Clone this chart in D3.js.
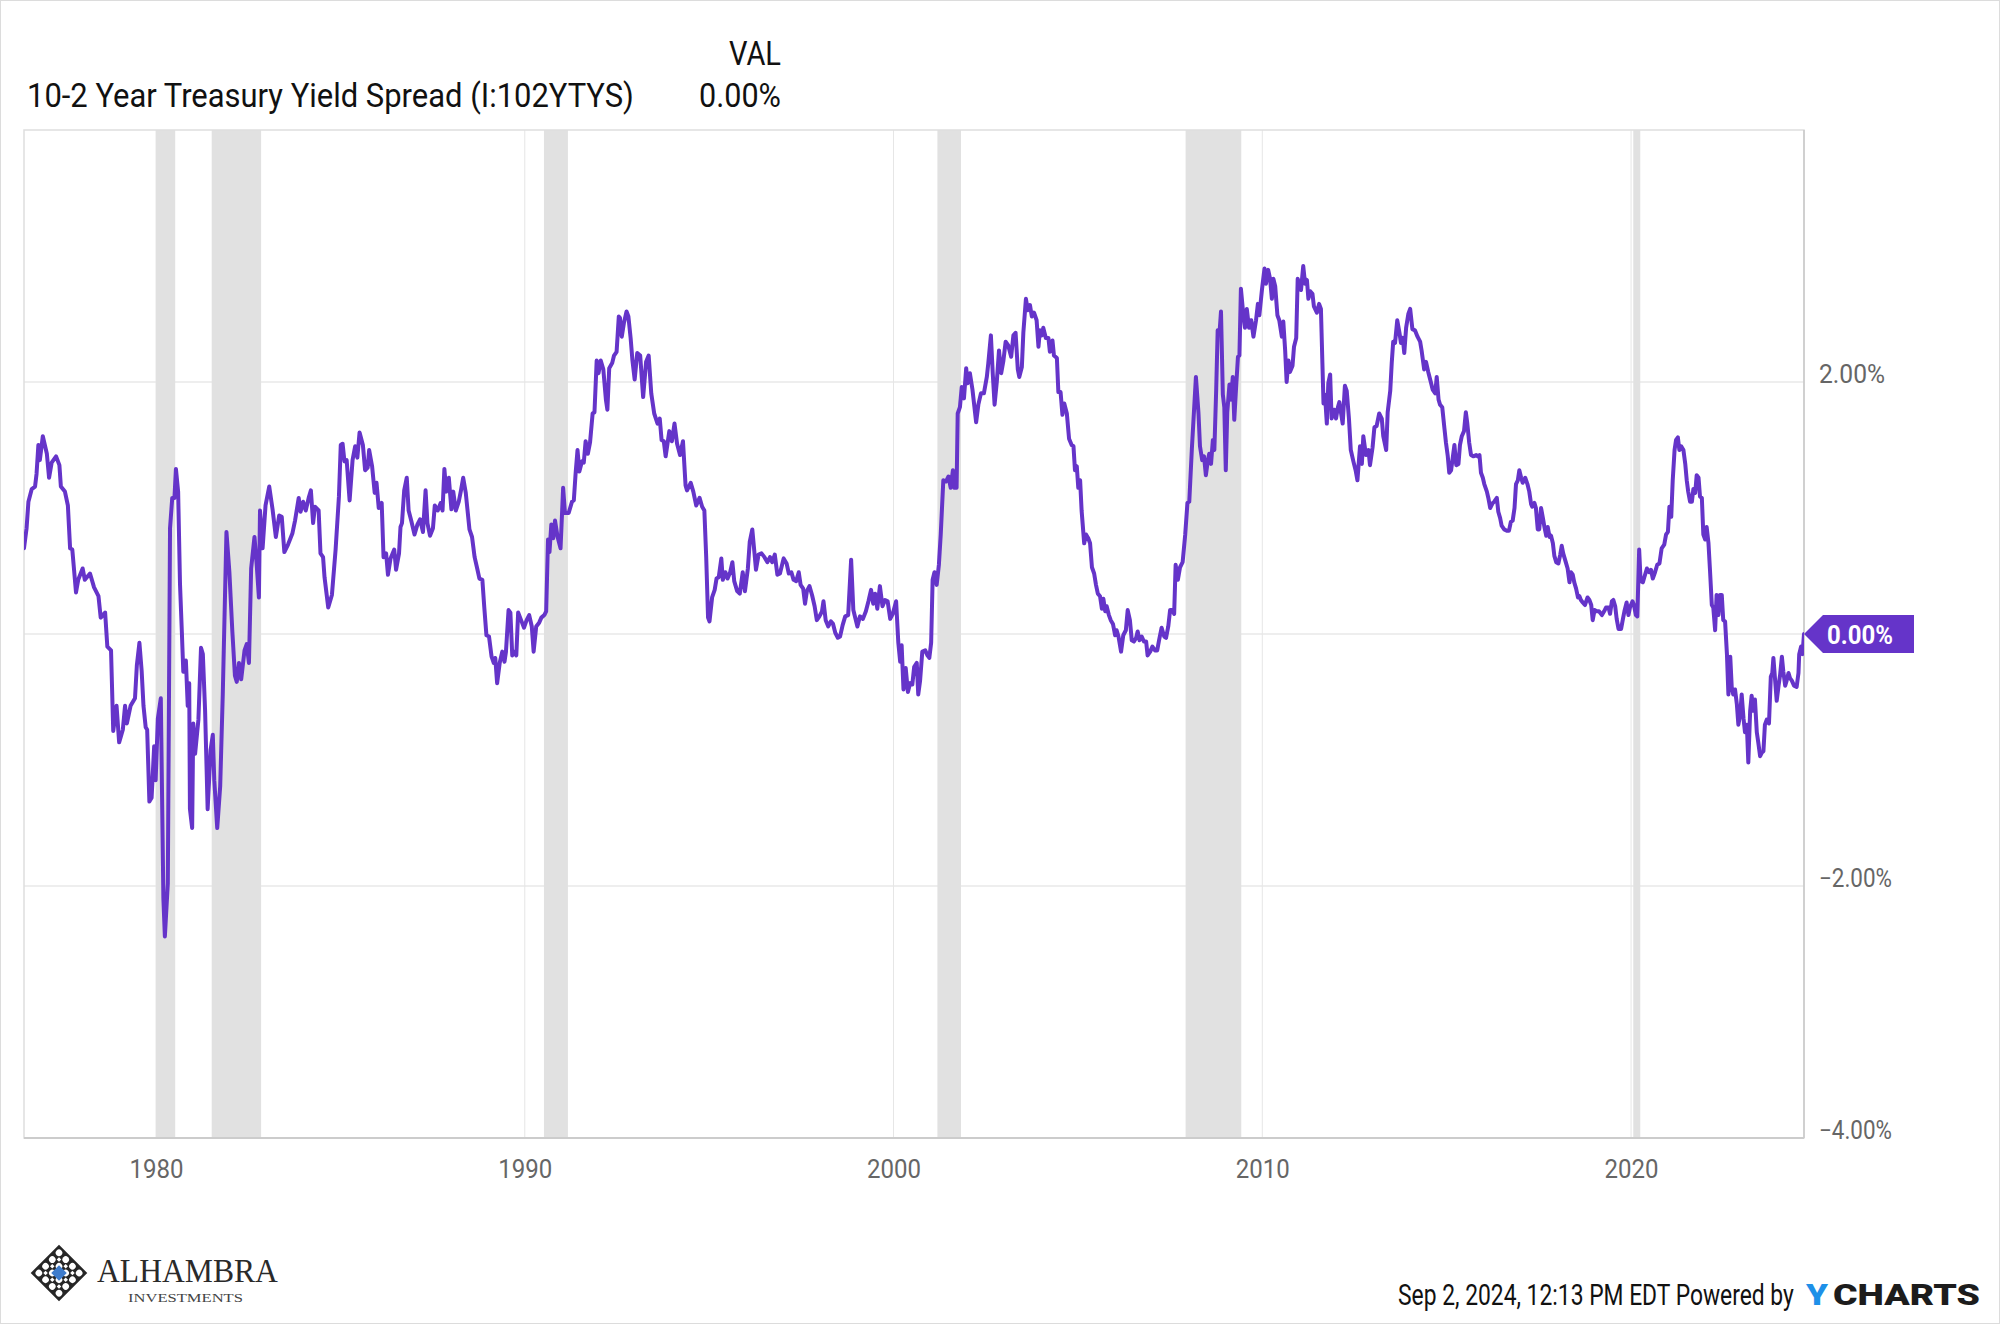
<!DOCTYPE html>
<html><head><meta charset="utf-8">
<script src="https://cdn.jsdelivr.net/npm/d3@7"></script>
<style>
html,body{margin:0;padding:0;background:#fff;}
svg{display:block;font-family:Roboto,"Noto Sans",sans-serif;}
</style></head><body>
<svg id="chart" width="2000" height="1324"></svg>
<script>
// ---- DATA (decimal year, spread %) ----
const spread1970s = [[1976.42,0.68],[1976.49,0.84],[1976.54,1.05],[1976.63,1.15],[1976.72,1.17],[1976.76,1.27],[1976.81,1.50],[1976.85,1.38],[1976.93,1.57],[1977.04,1.43],[1977.10,1.24],[1977.17,1.36],[1977.29,1.41],[1977.38,1.34],[1977.42,1.17],[1977.53,1.13],[1977.61,1.02],[1977.67,0.68],[1977.73,0.67],[1977.83,0.33],[1977.89,0.43],[1978.01,0.52],[1978.07,0.43],[1978.21,0.48],[1978.32,0.37],[1978.44,0.30],[1978.50,0.13],[1978.62,0.17],[1978.68,-0.10],[1978.78,-0.13],[1978.84,-0.77],[1978.93,-0.57],[1979.00,-0.86],[1979.10,-0.76],[1979.16,-0.57],[1979.21,-0.71],[1979.31,-0.57],[1979.43,-0.51],[1979.48,-0.25],[1979.55,-0.07],[1979.61,-0.29],[1979.66,-0.57],[1979.72,-0.74],[1979.76,-0.76],[1979.82,-1.33],[1979.88,-1.30],[1979.95,-0.89],[1979.99,-1.16]];
const spread1980s = [[1980.05,-0.67],[1980.13,-0.51],[1980.20,-2.10],[1980.24,-2.40],[1980.32,-1.98],[1980.38,0.84],[1980.44,1.08],[1980.50,1.08],[1980.54,1.31],[1980.60,1.13],[1980.65,0.40],[1980.70,0.02],[1980.74,-0.30],[1980.81,-0.21],[1980.86,-0.57],[1980.90,-0.39],[1980.92,-1.39],[1980.98,-1.54],[1981.01,-0.71],[1981.06,-0.95],[1981.15,-0.68],[1981.22,-0.11],[1981.27,-0.16],[1981.33,-0.60],[1981.40,-1.39],[1981.48,-0.92],[1981.54,-0.80],[1981.58,-1.16],[1981.66,-1.54],[1981.74,-1.21],[1981.81,-0.48],[1981.91,0.81],[1981.99,0.49],[1982.07,0.02],[1982.14,-0.33],[1982.19,-0.38],[1982.25,-0.23],[1982.31,-0.36],[1982.40,-0.13],[1982.46,-0.08],[1982.52,-0.23],[1982.58,0.52],[1982.67,0.77],[1982.73,0.55],[1982.79,0.29],[1982.82,0.98],[1982.89,0.68],[1982.97,1.02],[1983.07,1.17],[1983.16,0.99],[1983.25,0.77],[1983.34,0.94],[1983.41,0.93],[1983.48,0.65],[1983.58,0.71],[1983.70,0.80],[1983.77,0.90],[1983.87,1.08],[1983.92,0.97],[1983.99,1.05],[1984.06,0.98],[1984.14,1.08],[1984.20,1.14],[1984.26,0.88],[1984.31,1.01],[1984.41,0.98],[1984.46,0.64],[1984.53,0.61],[1984.57,0.45],[1984.67,0.21],[1984.77,0.31],[1984.87,0.67],[1984.96,1.09],[1985.01,1.50],[1985.06,1.51],[1985.11,1.37],[1985.17,1.38],[1985.25,1.06],[1985.33,1.38],[1985.40,1.49],[1985.46,1.40],[1985.52,1.60],[1985.61,1.50],[1985.67,1.30],[1985.74,1.32],[1985.78,1.46],[1985.86,1.33],[1985.93,1.12],[1985.98,1.20],[1986.04,1.00],[1986.12,1.04],[1986.17,0.61],[1986.24,0.64],[1986.29,0.47],[1986.36,0.60],[1986.46,0.67],[1986.51,0.51],[1986.59,0.64],[1986.63,0.85],[1986.67,0.88],[1986.73,1.14],[1986.80,1.24],[1986.85,0.98],[1986.92,0.90],[1987.01,0.79],[1987.09,0.87],[1987.16,0.91],[1987.24,0.81],[1987.31,1.14],[1987.36,0.88],[1987.43,0.78],[1987.51,0.84],[1987.56,1.02],[1987.64,0.98],[1987.72,1.04],[1987.77,0.98],[1987.82,1.31],[1987.87,1.13],[1987.94,1.24],[1988.01,0.99],[1988.06,1.13],[1988.13,0.98],[1988.21,1.05],[1988.27,1.14],[1988.33,1.24],[1988.40,1.12],[1988.50,0.83],[1988.57,0.77],[1988.64,0.61],[1988.71,0.52],[1988.77,0.44],[1988.85,0.43],[1988.90,0.22],[1988.96,-0.01],[1989.03,-0.02],[1989.10,-0.18],[1989.16,-0.23],[1989.20,-0.19],[1989.25,-0.39],[1989.32,-0.23],[1989.39,-0.14],[1989.45,-0.22],[1989.49,-0.14],[1989.56,0.19],[1989.61,0.17],[1989.66,-0.17],[1989.73,-0.14],[1989.77,-0.17],[1989.82,0.17],[1989.90,0.11],[1989.98,0.05]];
const spread1990s = [[1990.05,0.11],[1990.12,0.15],[1990.19,0.06],[1990.24,-0.14],[1990.31,0.06],[1990.39,0.09],[1990.45,0.13],[1990.53,0.15],[1990.58,0.18],[1990.63,0.75],[1990.67,0.65],[1990.72,0.87],[1990.77,0.76],[1990.82,0.90],[1990.89,0.77],[1990.97,0.68],[1991.04,1.16],[1991.09,0.96],[1991.19,0.96],[1991.28,1.05],[1991.33,1.06],[1991.38,1.28],[1991.43,1.46],[1991.48,1.29],[1991.55,1.37],[1991.60,1.36],[1991.65,1.53],[1991.71,1.43],[1991.77,1.52],[1991.84,1.75],[1991.89,1.76],[1991.95,2.17],[1992.00,2.07],[1992.06,2.17],[1992.13,2.10],[1992.20,1.86],[1992.24,1.78],[1992.29,2.11],[1992.37,2.15],[1992.42,2.21],[1992.49,2.24],[1992.55,2.52],[1992.58,2.51],[1992.63,2.36],[1992.69,2.47],[1992.76,2.56],[1992.81,2.52],[1992.87,2.35],[1992.92,2.17],[1992.98,2.02],[1993.05,2.23],[1993.13,2.21],[1993.21,1.88],[1993.29,2.16],[1993.36,2.21],[1993.43,1.91],[1993.51,1.75],[1993.60,1.67],[1993.66,1.71],[1993.71,1.54],[1993.77,1.53],[1993.82,1.41],[1993.92,1.61],[1993.99,1.53],[1994.06,1.67],[1994.13,1.51],[1994.21,1.42],[1994.29,1.53],[1994.36,1.18],[1994.40,1.14],[1994.50,1.20],[1994.57,1.13],[1994.65,1.02],[1994.74,1.08],[1994.81,1.01],[1994.87,0.98],[1994.92,0.61],[1994.97,0.13],[1995.01,0.10],[1995.08,0.29],[1995.15,0.35],[1995.20,0.44],[1995.26,0.45],[1995.33,0.60],[1995.37,0.43],[1995.44,0.49],[1995.50,0.44],[1995.57,0.49],[1995.63,0.57],[1995.68,0.42],[1995.76,0.34],[1995.83,0.32],[1995.91,0.49],[1995.97,0.34],[1996.05,0.52],[1996.10,0.73],[1996.17,0.83],[1996.23,0.64],[1996.27,0.51],[1996.34,0.63],[1996.42,0.64],[1996.50,0.61],[1996.58,0.57],[1996.65,0.61],[1996.71,0.57],[1996.78,0.63],[1996.85,0.47],[1996.92,0.48],[1997.02,0.60],[1997.10,0.56],[1997.16,0.48],[1997.23,0.49],[1997.29,0.43],[1997.36,0.42],[1997.43,0.49],[1997.48,0.39],[1997.55,0.36],[1997.60,0.24],[1997.65,0.34],[1997.72,0.38],[1997.79,0.31],[1997.86,0.22],[1997.92,0.11],[1997.99,0.14],[1998.06,0.18],[1998.10,0.26],[1998.16,0.11],[1998.23,0.06],[1998.30,0.10],[1998.36,0.08],[1998.42,0.01],[1998.49,-0.03],[1998.55,-0.02],[1998.62,0.07],[1998.69,0.14],[1998.77,0.15],[1998.85,0.59],[1998.91,0.19],[1999.02,0.06],[1999.09,0.14],[1999.17,0.12],[1999.25,0.18],[1999.32,0.26],[1999.39,0.35],[1999.45,0.24],[1999.50,0.32],[1999.56,0.20],[1999.63,0.38],[1999.70,0.22],[1999.77,0.27],[1999.84,0.26],[1999.91,0.12],[1999.98,0.16]];
const spread2000s = [[2000.07,0.26],[2000.13,-0.07],[2000.18,-0.22],[2000.22,-0.09],[2000.27,-0.44],[2000.33,-0.27],[2000.39,-0.46],[2000.45,-0.39],[2000.51,-0.40],[2000.56,-0.26],[2000.63,-0.23],[2000.67,-0.48],[2000.72,-0.37],[2000.78,-0.14],[2000.86,-0.13],[2000.92,-0.17],[2000.97,-0.19],[2001.02,-0.07],[2001.06,0.43],[2001.11,0.49],[2001.17,0.39],[2001.23,0.55],[2001.28,0.79],[2001.35,1.22],[2001.42,1.21],[2001.49,1.25],[2001.55,1.16],[2001.61,1.30],[2001.65,1.16],[2001.71,1.16],[2001.74,1.75],[2001.80,1.80],[2001.85,1.96],[2001.91,1.87],[2001.97,2.11],[2002.01,1.99],[2002.07,2.07],[2002.14,1.94],[2002.24,1.68],[2002.30,1.82],[2002.37,1.91],[2002.45,1.91],[2002.53,2.04],[2002.57,2.15],[2002.64,2.37],[2002.69,2.07],[2002.74,1.82],[2002.80,2.00],[2002.86,2.25],[2002.92,2.07],[2002.98,2.17],[2003.04,2.32],[2003.11,2.29],[2003.19,2.20],[2003.25,2.37],[2003.31,2.39],[2003.37,2.10],[2003.41,2.04],[2003.48,2.12],[2003.52,2.39],[2003.59,2.66],[2003.64,2.57],[2003.70,2.61],[2003.75,2.52],[2003.81,2.55],[2003.88,2.49],[2003.93,2.28],[2003.97,2.41],[2004.02,2.37],[2004.06,2.43],[2004.13,2.35],[2004.20,2.35],[2004.24,2.24],[2004.31,2.33],[2004.35,2.21],[2004.43,2.19],[2004.47,1.92],[2004.53,1.92],[2004.58,1.74],[2004.63,1.83],[2004.70,1.75],[2004.76,1.55],[2004.83,1.50],[2004.88,1.49],[2004.92,1.30],[2004.97,1.33],[2005.01,1.16],[2005.06,1.22],[2005.10,0.98],[2005.17,0.72],[2005.22,0.79],[2005.28,0.76],[2005.33,0.72],[2005.38,0.53],[2005.44,0.48],[2005.49,0.39],[2005.54,0.32],[2005.60,0.30],[2005.65,0.20],[2005.69,0.28],[2005.74,0.18],[2005.78,0.22],[2005.84,0.15],[2005.89,0.11],[2005.95,0.08],[2006.01,-0.01],[2006.05,0.03],[2006.10,-0.02],[2006.17,-0.14],[2006.23,-0.01],[2006.30,0.03],[2006.35,0.19],[2006.41,0.11],[2006.46,-0.05],[2006.52,-0.06],[2006.58,-0.03],[2006.62,0.02],[2006.67,-0.05],[2006.73,-0.02],[2006.79,-0.06],[2006.85,-0.06],[2006.89,-0.17],[2006.96,-0.14],[2007.02,-0.10],[2007.09,-0.13],[2007.15,-0.13],[2007.20,-0.05],[2007.27,0.05],[2007.34,-0.02],[2007.39,-0.03],[2007.45,0.06],[2007.50,0.19],[2007.56,0.19],[2007.61,0.16],[2007.65,0.55],[2007.71,0.43],[2007.77,0.53],[2007.84,0.57],[2007.91,0.79],[2007.97,1.04],[2008.02,1.05],[2008.09,1.47],[2008.15,1.78],[2008.20,2.04],[2008.27,1.75],[2008.31,1.49],[2008.37,1.38],[2008.42,1.41],[2008.47,1.26],[2008.52,1.37],[2008.56,1.43],[2008.61,1.35],[2008.66,1.54],[2008.70,1.46],[2008.75,1.94],[2008.79,2.41],[2008.84,2.39],[2008.88,2.56],[2008.93,1.90],[2008.97,1.80],[2009.01,1.30],[2009.05,1.76],[2009.11,1.98],[2009.15,1.86],[2009.20,2.04],[2009.24,1.70],[2009.29,1.96],[2009.34,2.20],[2009.38,2.21],[2009.42,2.74],[2009.49,2.52],[2009.53,2.43],[2009.58,2.58],[2009.64,2.43],[2009.70,2.49],[2009.76,2.36],[2009.83,2.49],[2009.88,2.62],[2009.92,2.53],[2009.99,2.73]];
const spread2010s = [[2010.06,2.90],[2010.10,2.78],[2010.16,2.89],[2010.21,2.82],[2010.26,2.66],[2010.30,2.82],[2010.35,2.76],[2010.41,2.53],[2010.46,2.49],[2010.53,2.36],[2010.57,2.48],[2010.62,2.25],[2010.66,2.00],[2010.71,2.17],[2010.75,2.08],[2010.82,2.13],[2010.86,2.28],[2010.92,2.35],[2010.96,2.82],[2011.01,2.76],[2011.05,2.73],[2011.11,2.92],[2011.16,2.78],[2011.21,2.81],[2011.25,2.66],[2011.30,2.72],[2011.36,2.70],[2011.40,2.60],[2011.48,2.55],[2011.54,2.62],[2011.59,2.58],[2011.63,2.15],[2011.66,1.83],[2011.70,1.90],[2011.75,1.67],[2011.79,1.99],[2011.84,2.06],[2011.88,1.71],[2011.95,1.78],[2012.00,1.71],[2012.05,1.80],[2012.09,1.84],[2012.18,1.67],[2012.24,1.97],[2012.29,1.93],[2012.35,1.71],[2012.40,1.46],[2012.47,1.37],[2012.53,1.30],[2012.58,1.22],[2012.65,1.49],[2012.70,1.35],[2012.74,1.57],[2012.81,1.42],[2012.88,1.46],[2012.92,1.34],[2012.99,1.48],[2013.04,1.64],[2013.10,1.65],[2013.17,1.75],[2013.24,1.71],[2013.28,1.57],[2013.36,1.46],[2013.40,1.76],[2013.47,1.93],[2013.51,2.15],[2013.55,2.32],[2013.60,2.31],[2013.66,2.49],[2013.72,2.39],[2013.76,2.31],[2013.81,2.35],[2013.85,2.23],[2013.90,2.43],[2013.96,2.54],[2014.01,2.58],[2014.07,2.42],[2014.14,2.41],[2014.21,2.36],[2014.28,2.32],[2014.32,2.25],[2014.39,2.10],[2014.44,2.16],[2014.50,2.08],[2014.57,2.00],[2014.62,1.94],[2014.69,1.91],[2014.73,2.04],[2014.78,1.86],[2014.82,1.82],[2014.88,1.80],[2014.94,1.63],[2014.98,1.52],[2015.03,1.41],[2015.07,1.28],[2015.12,1.30],[2015.17,1.41],[2015.21,1.50],[2015.26,1.34],[2015.32,1.35],[2015.36,1.50],[2015.41,1.57],[2015.47,1.61],[2015.52,1.76],[2015.56,1.67],[2015.61,1.52],[2015.66,1.42],[2015.72,1.41],[2015.80,1.42],[2015.84,1.41],[2015.89,1.42],[2015.93,1.28],[2015.98,1.24],[2016.02,1.19],[2016.09,1.13],[2016.13,1.08],[2016.18,1.00],[2016.25,1.04],[2016.29,1.05],[2016.36,1.08],[2016.40,0.97],[2016.45,0.92],[2016.49,0.86],[2016.56,0.83],[2016.63,0.82],[2016.69,0.82],[2016.74,0.89],[2016.79,0.90],[2016.84,1.00],[2016.88,1.19],[2016.93,1.22],[2016.97,1.30],[2017.02,1.24],[2017.06,1.20],[2017.13,1.24],[2017.19,1.19],[2017.24,1.13],[2017.29,1.03],[2017.32,1.01],[2017.38,1.04],[2017.42,1.00],[2017.47,0.83],[2017.51,0.83],[2017.56,1.00],[2017.61,0.92],[2017.65,0.85],[2017.70,0.78],[2017.74,0.85],[2017.79,0.77],[2017.83,0.78],[2017.88,0.72],[2017.92,0.62],[2017.97,0.57],[2018.03,0.56],[2018.08,0.63],[2018.12,0.70],[2018.16,0.64],[2018.23,0.57],[2018.28,0.52],[2018.33,0.41],[2018.37,0.49],[2018.42,0.47],[2018.46,0.41],[2018.51,0.36],[2018.56,0.29],[2018.60,0.30],[2018.64,0.27],[2018.69,0.25],[2018.75,0.23],[2018.82,0.29],[2018.87,0.27],[2018.92,0.23],[2018.96,0.11],[2019.01,0.19],[2019.07,0.18],[2019.13,0.18],[2019.21,0.15],[2019.27,0.18],[2019.32,0.21],[2019.39,0.21],[2019.43,0.16],[2019.48,0.26],[2019.52,0.27],[2019.57,0.22],[2019.61,0.12],[2019.66,0.04],[2019.73,0.04],[2019.78,0.12],[2019.82,0.18],[2019.88,0.25],[2019.93,0.15],[2019.97,0.21]];
const spread2020s = [[2020.04,0.26],[2020.08,0.23],[2020.13,0.15],[2020.17,0.14],[2020.22,0.67],[2020.26,0.42],[2020.32,0.41],[2020.36,0.45],[2020.43,0.52],[2020.49,0.49],[2020.54,0.51],[2020.59,0.44],[2020.65,0.49],[2020.71,0.55],[2020.77,0.56],[2020.83,0.68],[2020.90,0.71],[2020.95,0.79],[2021.00,0.81],[2021.04,1.01],[2021.09,0.93],[2021.13,1.22],[2021.18,1.46],[2021.22,1.54],[2021.27,1.56],[2021.31,1.46],[2021.36,1.49],[2021.42,1.46],[2021.47,1.35],[2021.51,1.22],[2021.55,1.13],[2021.60,1.05],[2021.65,1.05],[2021.69,1.15],[2021.74,1.12],[2021.78,1.26],[2021.83,1.24],[2021.87,1.09],[2021.92,1.08],[2021.96,0.79],[2022.01,0.75],[2022.05,0.85],[2022.10,0.72],[2022.14,0.51],[2022.19,0.23],[2022.23,0.21],[2022.28,0.03],[2022.32,0.31],[2022.37,0.15],[2022.41,0.31],[2022.46,0.31],[2022.50,0.11],[2022.55,0.10],[2022.60,-0.16],[2022.64,-0.48],[2022.69,-0.18],[2022.73,-0.42],[2022.77,-0.48],[2022.82,-0.44],[2022.87,-0.56],[2022.91,-0.72],[2022.96,-0.64],[2023.00,-0.48],[2023.05,-0.67],[2023.09,-0.78],[2023.14,-0.72],[2023.18,-1.02],[2023.23,-0.61],[2023.27,-0.49],[2023.32,-0.61],[2023.36,-0.52],[2023.41,-0.78],[2023.45,-0.86],[2023.50,-0.97],[2023.55,-0.94],[2023.59,-0.93],[2023.63,-0.72],[2023.68,-0.68],[2023.74,-0.71],[2023.79,-0.34],[2023.83,-0.31],[2023.86,-0.19],[2023.91,-0.38],[2023.95,-0.53],[2024.00,-0.41],[2024.04,-0.33],[2024.09,-0.18],[2024.13,-0.30],[2024.18,-0.41],[2024.22,-0.37],[2024.27,-0.31],[2024.31,-0.35],[2024.36,-0.37],[2024.42,-0.41],[2024.49,-0.42],[2024.54,-0.31],[2024.56,-0.16],[2024.61,-0.10],[2024.65,-0.16],[2024.69,0.00]];

const recessionStart = [1980.00, 1981.51, 1990.52, 2001.19, 2007.92, 2020.06];
const recessionEnd   = [1980.52, 1982.85, 1991.17, 2001.83, 2009.43, 2020.25];
const xTickYears = [1980, 1990, 2000, 2010, 2020];
const yTickValues = [-4, -2, 0, 2];
const seriesName = "10-2 Year Treasury Yield Spread (I:102YTYS)";
const valueHeader = "VAL";
const lastValue = 0.00;
const timestamp = "Sep 2, 2024, 12:13 PM EDT Powered by";
const xDomain = [1976.42, 2024.69];
const yDomain = [-4, 4];

// ---- RENDER ----
const series = [].concat(spread1970s, spread1980s, spread1990s, spread2000s, spread2010s, spread2020s);
const svg = d3.select("#chart");
const W = 2000, H = 1324;
const plot = {left: 24, right: 1804, top: 130, bottom: 1138};
const purple = "#6534c9";

// text placed at (x,y) and squeezed horizontally to a target width
function fitText(parent, x, y, str, width, attrs, anchor) {
  const t = parent.append("text").attr("x", 0).attr("y", 0).text(str);
  Object.entries(attrs).forEach(([k, v]) => t.attr(k, v));
  if (anchor) t.attr("text-anchor", anchor);
  const w = t.node().getComputedTextLength();
  const s = w > 0 ? width / w : 1;
  t.attr("transform", `translate(${x},${y}) scale(${s},1)`);
  return t;
}

svg.append("rect").attr("x",0.5).attr("y",0.5).attr("width",W-1).attr("height",H-1)
  .attr("fill","#fff").attr("stroke","#dcdcdc");

const x = d3.scaleLinear().domain(xDomain).range([plot.left, plot.right]);
const y = d3.scaleLinear().domain(yDomain).range([plot.bottom, plot.top]);
const pct = v => d3.format(".2f")(v) + "%";

// gridlines
const g = svg.append("g");
g.selectAll("line.h").data(yTickValues.filter(v => v > yDomain[0])).join("line")
  .attr("x1", plot.left).attr("x2", plot.right)
  .attr("y1", d => y(d)).attr("y2", d => y(d))
  .attr("stroke", "#e9e9e9").attr("stroke-width", 1.5);
g.selectAll("line.v").data(xTickYears).join("line")
  .attr("x1", d => x(d)).attr("x2", d => x(d))
  .attr("y1", plot.top).attr("y2", plot.bottom)
  .attr("stroke", "#e6e6e6").attr("stroke-width", 1);

// recession bands
svg.append("g").selectAll("rect").data(recessionStart.map((s,i) => [s, recessionEnd[i]])).join("rect")
  .attr("x", d => x(d[0])).attr("width", d => x(d[1]) - x(d[0]))
  .attr("y", plot.top).attr("height", plot.bottom - plot.top)
  .attr("fill", "#e1e1e1");

// frame
svg.append("rect").attr("x", plot.left).attr("y", plot.top)
  .attr("width", plot.right - plot.left).attr("height", plot.bottom - plot.top)
  .attr("fill", "none").attr("stroke", "#dedede").attr("stroke-width", 1.5);
svg.append("line").attr("x1", plot.right).attr("x2", plot.right).attr("y1", plot.top).attr("y2", plot.bottom)
  .attr("stroke", "#c8c8c8").attr("stroke-width", 1.5);
svg.append("line").attr("x1", plot.left).attr("x2", plot.right).attr("y1", plot.bottom).attr("y2", plot.bottom)
  .attr("stroke", "#cccccc").attr("stroke-width", 2);

// line
svg.append("defs").append("clipPath").attr("id","clip").append("rect")
  .attr("x", plot.left).attr("y", plot.top - 5).attr("width", plot.right-plot.left).attr("height", plot.bottom-plot.top + 10);
const line = d3.line().x(d => x(d[0])).y(d => y(d[1]));
svg.append("path").datum(series).attr("d", line).attr("clip-path","url(#clip)")
  .attr("fill","none").attr("stroke", purple).attr("stroke-width", 4)
  .attr("stroke-linejoin","round").attr("stroke-linecap","round");

// y axis (right)
const yAxis = d3.axisRight(y).tickValues(yTickValues).tickSize(0).tickFormat(pct);
const ya = svg.append("g").attr("transform", `translate(${plot.right},0)`).call(yAxis);
ya.select(".domain").remove();
ya.selectAll("text").attr("x", 15).attr("dy", 0)
  .attr("font-family","Roboto").attr("font-size", 25).attr("fill", "#666")
  .attr("textLength", d => d < 0 ? 73 : 66).attr("lengthAdjust","spacingAndGlyphs");

// x axis
const xAxis = d3.axisBottom(x).tickValues(xTickYears).tickSize(0).tickFormat(d3.format("d"));
const xa = svg.append("g").attr("transform", `translate(0,${plot.bottom})`).call(xAxis);
xa.select(".domain").remove();
xa.selectAll("text").attr("y", 40).attr("dy", 0)
  .attr("font-family","Roboto").attr("font-size", 26).attr("fill", "#666")
  .attr("textLength", 54).attr("lengthAdjust","spacingAndGlyphs");

// last value tag
const last = series[series.length - 1];
const tx = x(last[0]), ty = y(last[1]);
svg.append("path")
  .attr("d", `M${tx},${ty} L${tx+19},${ty-19} L${tx+110},${ty-19} L${tx+110},${ty+19} L${tx+19},${ty+19} Z`)
  .attr("fill", purple);
fitText(svg, tx + 23, ty + 9.5, pct(lastValue), 66,
  {"font-family":"Roboto","font-weight":"bold","font-size":26,"fill":"#fff"});

// header
const hdr = {"font-family":"Roboto","font-size":33,"fill":"#111"};
fitText(svg, 27, 107, seriesName, 607, hdr);
fitText(svg, 781, 65, valueHeader, 52, hdr, "end");
fitText(svg, 781, 107, pct(lastValue), 82, hdr, "end");

// footer
fitText(svg, 1398, 1305, timestamp, 396, {"font-family":"Roboto","font-size":29,"fill":"#111"});
fitText(svg, 1806, 1305, "Y", 22, {"font-family":"Roboto","font-weight":"900","font-size":30,"fill":"#1e90e8"});
fitText(svg, 1833, 1305, "CHARTS", 147, {"font-family":"Roboto","font-weight":"900","font-size":30,"fill":"#1c1c1c"});

// Alhambra logo
const logo = svg.append("g").attr("transform","translate(59,1273) rotate(45)");
logo.append("rect").attr("x",-20).attr("y",-20).attr("width",40).attr("height",40).attr("fill","#262626");
const cells = [-14.25, -4.75, 4.75, 14.25];
cells.forEach(cx => cells.forEach(cy => {
  logo.append("circle").attr("cx", cx).attr("cy", cy).attr("r", 3.3).attr("fill", "#fff");
}));
[-9.5, 0, 9.5].forEach(cx => [-9.5, 0, 9.5].forEach(cy => {
  logo.append("rect").attr("x", cx-1.6).attr("y", cy-1.6).attr("width",3.2).attr("height",3.2).attr("fill","#fff");
}));
logo.append("rect").attr("x",-5.5).attr("y",-5.5).attr("width",11).attr("height",11).attr("fill","#3e7ccc");
fitText(svg, 97, 1281.5, "ALHAMBRA", 181,
  {"font-family":"Liberation Serif, DejaVu Serif, serif","font-size":34,"fill":"#2a2a2a"});
fitText(svg, 128, 1302, "INVESTMENTS", 115,
  {"font-family":"Liberation Serif, DejaVu Serif, serif","font-size":13,"fill":"#444"});
</script>
</body></html>
